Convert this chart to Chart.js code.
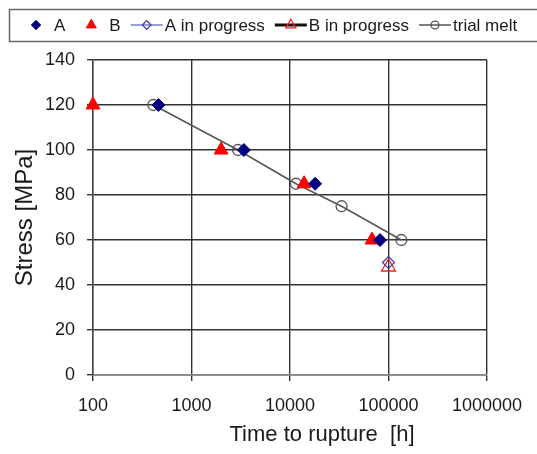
<!DOCTYPE html>
<html>
<head>
<meta charset="utf-8">
<script src="https://cdn.jsdelivr.net/npm/chart.js@4/dist/chart.umd.min.js"></script>
<style>
  html, body { margin: 0; padding: 0; background: #fff; }
  canvas { display: block; }
</style>
</head>
<body>
<canvas id="creep" width="537" height="454"></canvas>
<script>
// rupture times [h] and stresses [MPa]
const aTime = [462, 3400, 18000, 82000];
const aStress = [120, 100, 85, 60];
const bTime = [100, 2000, 13900, 68000];
const bStress = [120, 100, 85, 60];
const aProgTime = [100000];
const aProgStress = [50];
const bProgTime = [100000];
const bProgStress = [48];
const trialTime = [410, 2970, 11500, 33400, 135000];
const trialStress = [120, 100, 85, 75, 60];
const xTicks = [100, 1000, 10000, 100000, 1000000];

const FONT = '"Liberation Sans", Arial, sans-serif';
const toPoints = (xs, ys) => xs.map((x, i) => ({ x: x, y: ys[i] }));

Chart.defaults.font.family = FONT;
Chart.defaults.color = '#222';

// legend in a framed strip across the top
const legendBox = {
    id: 'legendBox',
    afterDraw(chart) {
        const ctx = chart.ctx;
        const y = 25;
        let x = 20;
        ctx.save();
        ctx.strokeStyle = '#666';
        ctx.lineWidth = 1.5;
        ctx.strokeRect(9.5, 9.5, 540, 32);
        ctx.font = '17px ' + FONT;
        ctx.textBaseline = 'middle';
        chart.data.datasets.forEach(ds => {
            if (ds.showLine) {
                ctx.strokeStyle = ds.borderColor;
                ctx.lineWidth = ds.borderWidth;
                ctx.beginPath();
                ctx.moveTo(x, y);
                ctx.lineTo(x + 32, y);
                ctx.stroke();
            }
            ctx.fillStyle = ds.pointBackgroundColor;
            ctx.strokeStyle = ds.pointBorderColor;
            ctx.lineWidth = ds.pointBorderWidth;
            Chart.helpers.drawPoint(ctx, {
                pointStyle: ds.pointStyle,
                radius: ds.pointRadius * 0.72,
                borderWidth: ds.pointBorderWidth,
                rotation: 0
            }, x + 16, y);
            ctx.fillStyle = '#1a1a1a';
            ctx.fillText(ds.label, x + 34, y + 1);
            x += 34 + ctx.measureText(ds.label).width + 10;
        });
        ctx.restore();
    }
};

// x axis title sits a little right of the plot centre
const xTitle = {
    id: 'xTitle',
    afterDraw(chart) {
        const ctx = chart.ctx;
        const area = chart.chartArea;
        ctx.save();
        ctx.font = '22px ' + FONT;
        ctx.fillStyle = '#1a1a1a';
        ctx.textAlign = 'center';
        ctx.textBaseline = 'middle';
        ctx.fillText('Time to rupture  [h]', (area.left + area.right) / 2 + 32, 435);
        ctx.restore();
    }
};

new Chart(document.getElementById('creep').getContext('2d'), {
    type: 'scatter',
    data: {
        datasets: [
            {
                label: 'A',
                data: toPoints(aTime, aStress),
                pointStyle: 'rectRot',
                pointRadius: 6.5,
                pointBackgroundColor: '#000080',
                pointBorderColor: '#000080',
                pointBorderWidth: 1,
                showLine: false
            },
            {
                label: 'B',
                data: toPoints(bTime, bStress),
                pointStyle: 'triangle',
                pointRadius: 8,
                pointBackgroundColor: '#ff0000',
                pointBorderColor: '#ff0000',
                pointBorderWidth: 1,
                showLine: false
            },
            {
                label: 'A in progress',
                data: toPoints(aProgTime, aProgStress),
                pointStyle: 'rectRot',
                pointRadius: 6,
                pointBackgroundColor: 'rgba(255,255,255,0)',
                pointBorderColor: '#3a3ab0',
                pointBorderWidth: 1.2,
                borderColor: '#3a3ab0',
                borderWidth: 1.2,
                showLine: true
            },
            {
                label: 'B in progress',
                data: toPoints(bProgTime, bProgStress),
                pointStyle: 'triangle',
                pointRadius: 8,
                pointBackgroundColor: 'rgba(255,255,255,0)',
                pointBorderColor: '#ff2020',
                pointBorderWidth: 1.3,
                borderColor: '#111',
                borderWidth: 3,
                showLine: true
            },
            {
                label: 'trial melt',
                data: toPoints(trialTime, trialStress),
                pointStyle: 'circle',
                pointRadius: 5.5,
                pointBackgroundColor: 'rgba(255,255,255,0)',
                pointBorderColor: '#555',
                pointBorderWidth: 1.3,
                borderColor: '#555',
                borderWidth: 1.5,
                showLine: true
            }
        ]
    },
    options: {
        responsive: false,
        animation: false,
        layout: { padding: { top: 60, right: 50, left: 0, bottom: 0 } },
        datasets: { scatter: { clip: false } },
        plugins: {
            legend: { display: false },
            tooltip: { enabled: false }
        },
        scales: {
            x: {
                type: 'logarithmic',
                min: 100,
                max: 1000000,
                afterBuildTicks: scale => {
                    scale.ticks = xTicks.map(v => ({ value: v }));
                },
                afterFit: scale => { scale.height = 79; },
                ticks: {
                    callback: v => String(v),
                    font: { size: 18 },
                    color: '#1a1a1a',
                    padding: 14,
                    maxRotation: 0,
                    autoSkip: false
                },
                grid: { color: '#333', lineWidth: 1.4, tickLength: 6 },
                border: { color: '#888', width: 1.4 }
            },
            y: {
                min: 0,
                max: 140,
                afterFit: scale => { scale.width = 93; },
                ticks: {
                    stepSize: 20,
                    font: { size: 18 },
                    color: '#1a1a1a',
                    padding: 12
                },
                grid: { color: '#333', lineWidth: 1.4, tickLength: 6 },
                border: { color: '#444', width: 1.4 },
                title: {
                    display: true,
                    text: 'Stress [MPa]',
                    font: { size: 24 },
                    color: '#1a1a1a',
                    padding: { top: 11, bottom: 0 }
                }
            }
        }
    },
    plugins: [legendBox, xTitle]
});
</script>
</body>
</html>
